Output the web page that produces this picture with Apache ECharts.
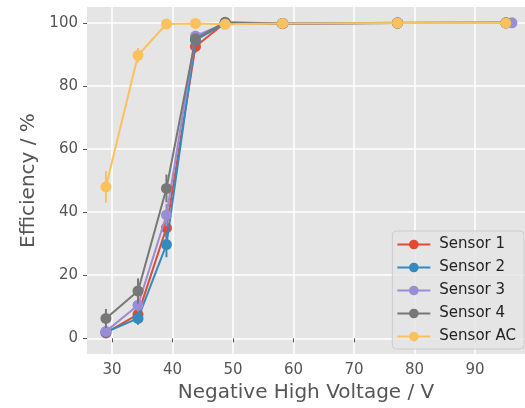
<!DOCTYPE html>
<html><head><meta charset="utf-8">
<script src="https://cdn.jsdelivr.net/npm/echarts@6/dist/echarts.min.js"></script>
<style>html,body{margin:0;padding:0;background:#fff}#c{width:525px;height:408px}</style>
</head><body><div id="c"></div>
<script>
const seriesNames = ['Sensor 1','Sensor 2','Sensor 3','Sensor 4','Sensor AC'];
const colors = ['#E24A33','#348ABD','#988ED5','#777777','#FBC15E'];
const xS1 = [29, 34.3, 39, 43.8, 48.7, 58.2, 77.2, 95.1];
const xS2 = [29, 34.3, 39, 43.8, 48.7, 58.2, 77.2, 95.1];
const xS3 = [29, 34.3, 39, 43.8, 48.7, 58.2, 77.2, 96.1];
const xS4 = [29, 34.3, 39, 43.8, 48.7, 58.2, 77.2, 95.1];
const xAC = [29, 34.3, 39, 43.8, 48.7, 58.2, 77.2, 95.1];
const s1 = [1.7, 7.6, 35.0, 92.5, 100.0, 99.7, 100.0, 100.0];
const s2 = [2.0, 6.3, 29.7, 94.5, 99.8, 99.8, 99.9, 99.9];
const s3 = [2.2, 10.5, 39.1, 95.8, 99.8, 99.8, 99.9, 100.0];
const s4 = [6.3, 15.0, 47.5, 94.9, 100.2, 99.8, 99.9, 100.0];
const sAC = [48.0, 89.7, 99.6, 99.8, 99.5, 99.8, 99.9, 99.9];
const e1 = [0.8, 1.8, 3.0, 2.0, 0.3, 0.3, 0.2, 0.2];
const e2 = [0.8, 2.0, 4.0, 1.5, 0.3, 0.3, 0.2, 0.2];
const e3 = [0.8, 2.0, 3.5, 1.5, 0.3, 0.3, 0.2, 0.2];
const e4 = [3.0, 4.0, 4.4, 1.5, 0.3, 0.3, 0.2, 0.2];
const eAC = [5.0, 2.3, 0.5, 0.3, 0.3, 0.3, 0.2, 0.2];
const xTicks = [30, 40, 50, 60, 70, 80, 90];
const yTicks = [0, 20, 40, 60, 80, 100];

const ys = [s1, s2, s3, s4, sAC];
const es = [e1, e2, e3, e4, eAC];
const xsAll = [xS1, xS2, xS3, xS4, xAC];
const FONT = 'DejaVu Sans';

const series = [];
seriesNames.forEach((name, i) => {
  const col = colors[i];
  series.push({
    type: 'custom', name: name + ' err', z: 2 + i * 2, silent: true,
    data: xsAll[i].map((x, k) => [x, ys[i][k], es[i][k]]),
    renderItem: function (params, api) {
      const x = api.value(0), y = api.value(1), e = api.value(2);
      const p1 = api.coord([x, y - e]), p2 = api.coord([x, y + e]);
      return { type: 'line', shape: { x1: p1[0], y1: p1[1], x2: p2[0], y2: p2[1] },
               style: { stroke: col, lineWidth: 2 } };
    }
  });
  series.push({
    type: 'line', name: name, z: 3 + i * 2,
    data: xsAll[i].map((x, k) => [x, ys[i][k]]),
    symbol: 'circle', symbolSize: 11, showSymbol: true,
    lineStyle: { color: col, width: 2 },
    itemStyle: { color: col },
    emphasis: { disabled: true }
  });
});

const chart = echarts.init(document.getElementById('c'), null, { renderer: 'canvas' });
chart.setOption({
  animation: false,
  backgroundColor: '#ffffff',
  textStyle: { fontFamily: FONT },
  grid: { left: 87, right: 0, top: 7, bottom: 51, show: true, backgroundColor: '#E5E5E5', borderWidth: 0, containLabel: false },
  xAxis: {
    type: 'value', min: 25.87, max: 98.26,
    name: 'Negative High Voltage / V', nameLocation: 'middle', nameGap: 28,
    nameTextStyle: { fontSize: 20, color: '#555555', fontFamily: FONT },
    axisLine: { show: false },
    axisTick: { show: true, length: 4, lineStyle: { color: '#555555', width: 1 }, customValues: xTicks },
    axisLabel: { fontSize: 15, color: '#555555', margin: 9, fontFamily: FONT, customValues: xTicks },
    splitLine: { show: true, lineStyle: { color: '#ffffff', width: 1.5 } }
  },
  yAxis: {
    type: 'value', min: -5, max: 105,
    name: 'Efficiency / %', nameLocation: 'middle', nameGap: 46,
    nameTextStyle: { fontSize: 20, color: '#555555', fontFamily: FONT },
    axisLine: { show: false },
    axisTick: { show: true, length: 4, lineStyle: { color: '#555555', width: 1 }, customValues: yTicks },
    axisLabel: { fontSize: 15, color: '#555555', margin: 9, fontFamily: FONT, customValues: yTicks },
    splitLine: { show: true, lineStyle: { color: '#ffffff', width: 1.5 } }
  },
  legend: {
    data: seriesNames, orient: 'vertical', right: 1, top: 231,
    itemWidth: 33, itemHeight: 12, itemGap: 8,
    padding: [6, 8, 5, 4],
    backgroundColor: 'rgba(229,229,229,0.8)', borderColor: '#cccccc', borderWidth: 1, borderRadius: 4,
    textStyle: { fontSize: 15, color: '#222222', fontFamily: FONT, padding: [0, 0, 0, 4] },
    selectedMode: false
  },
  series: series
});
</script></body></html>
